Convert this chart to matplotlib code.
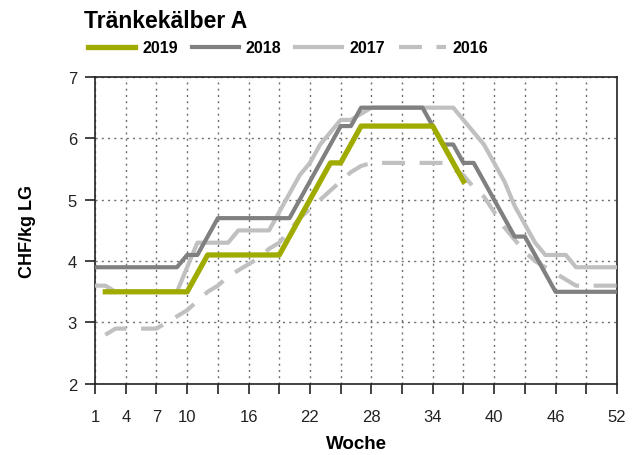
import numpy as np
import matplotlib
matplotlib.use('Agg')
import matplotlib.pyplot as plt

# Wochen und Preise (CHF/kg LG) je Jahr
weeks_2019 = list(range(2, 38))
price_2019 = [3.5, 3.5, 3.5, 3.5, 3.5, 3.5, 3.5, 3.5, 3.5, 3.8, 4.1, 4.1, 4.1, 4.1, 4.1,
              4.1, 4.1, 4.1, 4.4, 4.7, 5.0, 5.3, 5.6, 5.6, 5.9, 6.2, 6.2, 6.2, 6.2, 6.2,
              6.2, 6.2, 6.2, 5.9, 5.6, 5.3]

weeks_2018 = list(range(1, 53))
price_2018 = [3.9, 3.9, 3.9, 3.9, 3.9, 3.9, 3.9, 3.9, 3.9, 4.1, 4.1, 4.4, 4.7, 4.7, 4.7,
              4.7, 4.7, 4.7, 4.7, 4.7, 5.0, 5.3, 5.6, 5.9, 6.2, 6.2, 6.5, 6.5, 6.5, 6.5,
              6.5, 6.5, 6.5, 6.2, 5.9, 5.9, 5.6, 5.6, 5.3, 5.0, 4.7, 4.4, 4.4, 4.1, 3.8,
              3.5, 3.5, 3.5, 3.5, 3.5, 3.5, 3.5]

weeks_2017 = list(range(1, 53))
price_2017 = [3.6, 3.6, 3.5, 3.5, 3.5, 3.5, 3.5, 3.5, 3.5, 3.9, 4.3, 4.3, 4.3, 4.3, 4.5,
              4.5, 4.5, 4.5, 4.8, 5.1, 5.4, 5.6, 5.9, 6.1, 6.3, 6.3, 6.4, 6.5, 6.5, 6.5,
              6.5, 6.5, 6.5, 6.5, 6.5, 6.5, 6.3, 6.1, 5.9, 5.6, 5.3, 4.9, 4.6, 4.3, 4.1,
              4.1, 4.1, 3.9, 3.9, 3.9, 3.9, 3.9]

weeks_2016 = list(range(2, 53))
price_2016 = [2.8, 2.9, 2.9, 2.9, 2.9, 2.9, 3.0, 3.1, 3.2, 3.35, 3.5, 3.6, 3.75, 3.85,
              3.95, 4.05, 4.2, 4.3, 4.5, 4.7, 4.85, 5.0, 5.15, 5.3, 5.45, 5.55, 5.6, 5.6,
              5.6, 5.6, 5.6, 5.6, 5.6, 5.6, 5.5, 5.4, 5.2, 5.05, 4.8, 4.55, 4.35, 4.15,
              4.0, 3.9, 3.8, 3.7, 3.6, 3.6, 3.6, 3.6, 3.6]

tick_weeks = list(range(1, 53, 3))
label_weeks = [1, 4, 7, 10, 16, 22, 28, 34, 40, 46, 52]

plt.rcParams['font.family'] = ['Liberation Sans', 'DejaVu Sans']

fig = plt.figure(figsize=(6.38, 4.56), dpi=100)
ax = fig.add_axes([0.149, 0.156, 0.818, 0.673])

ax.plot(weeks_2016, price_2016, color='#c0c0c0', lw=3.0, dashes=(5.5, 3.5),
        label='2016', zorder=3)
ax.plot(weeks_2017, price_2017, color='#c0c0c0', lw=3.0, label='2017', zorder=3)
ax.plot(weeks_2018, price_2018, color='#808080', lw=3.0, label='2018', zorder=4)
ax.plot(weeks_2019, price_2019, color='#a0ab00', lw=3.8, label='2019', zorder=5)

ax.set_xlim(1, 52)
ax.set_ylim(2, 7)
ax.set_xticks(tick_weeks)
ax.set_xticklabels([str(w) if w in label_weeks else '' for w in tick_weeks])
ax.set_yticks([2, 3, 4, 5, 6, 7])
ax.grid(True, color='#707070', linestyle=(0, (1.5, 3)), linewidth=1.0)
ax.tick_params(direction='out', length=7, width=1.2, labelsize=12, colors='#222222')
ax.tick_params(axis='x', pad=11)
ax.tick_params(axis='y', pad=6)
for s in ax.spines.values():
    s.set_linewidth(1.2)
    s.set_color('#222222')

ax.set_xlabel('Woche', fontsize=13.5, fontweight='bold', labelpad=8)
ax.set_ylabel('CHF/kg LG', fontsize=13, fontweight='bold', labelpad=23)

fig.text(0.132, 0.952, 'Tränkekälber A', fontsize=16.5, fontweight='bold', va='center')

handles, labels = ax.get_legend_handles_labels()
order = [3, 2, 1, 0]
fig.legend([handles[i] for i in order], [labels[i] for i in order],
           loc='center left', bbox_to_anchor=(0.138, 0.893), ncol=4, frameon=False,
           prop={'weight': 'bold', 'size': 11.5}, handlelength=2.95, columnspacing=0.85,
           handletextpad=0.45, borderaxespad=0, borderpad=0)

fig.savefig('out.png', dpi=100)
